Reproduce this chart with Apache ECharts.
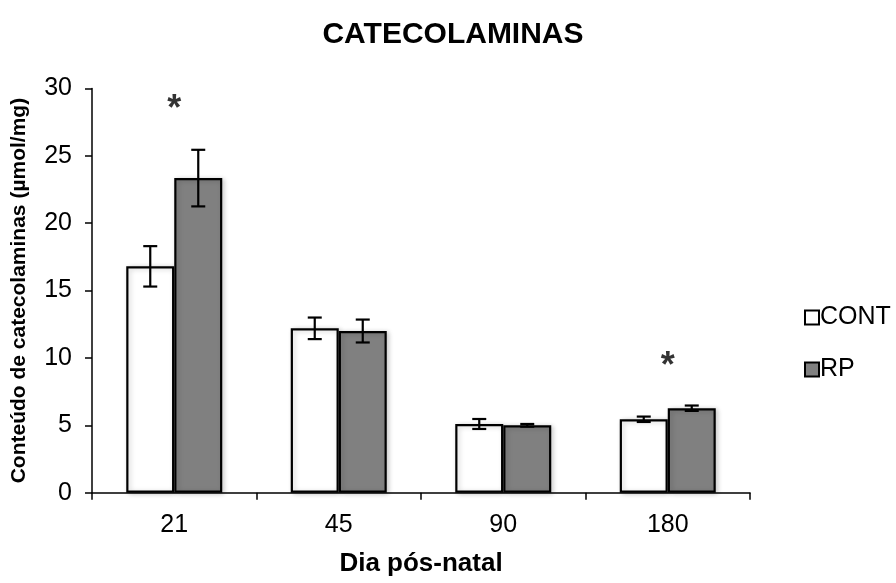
<!DOCTYPE html>
<html>
<head>
<meta charset="utf-8">
<script src="https://cdn.jsdelivr.net/npm/echarts@6/dist/echarts.min.js"></script>
<style>
html,body{margin:0;padding:0;background:#fff;}
#chart{width:896px;height:583px;}
</style>
</head>
<body>
<div id="chart"></div>
<script>
var categories = ['21', '45', '90', '180'];
var seriesNames = ['CONT', 'RP'];
var contValues = [16.8, 12.2, 5.1, 5.45];
var contErrors = [1.5, 0.8, 0.37, 0.2];
var rpValues = [23.35, 12.0, 5.0, 6.27];
var rpErrors = [2.1, 0.85, 0.1, 0.2];
var sigCategories = [0, 3];
var sigHeights = [28.4, 9.3];
var yTicks = [0, 5, 10, 15, 20, 25, 30];

var FONT = 'Liberation Sans, Arial, sans-serif';
var BAR_W = 48;

var chart = echarts.init(document.getElementById('chart'), null, {renderer: 'canvas'});

function errData(vals, errs) {
  return vals.map(function (v, i) { return [i, v - errs[i], v + errs[i]]; });
}

function errRender(offset) {
  return function (params, api) {
    var lo = api.coord([api.value(0), api.value(1)]);
    var hi = api.coord([api.value(0), api.value(2)]);
    var x = lo[0] + offset;
    var cap = 7;
    var st = {stroke: '#000', lineWidth: 2.2};
    return {
      type: 'group',
      children: [
        {type: 'line', shape: {x1: x, y1: lo[1], x2: x, y2: hi[1]}, style: st},
        {type: 'line', shape: {x1: x - cap, y1: hi[1], x2: x + cap, y2: hi[1]}, style: st},
        {type: 'line', shape: {x1: x - cap, y1: lo[1], x2: x + cap, y2: lo[1]}, style: st}
      ]
    };
  };
}

var barShadow = {shadowBlur: 5, shadowColor: 'rgba(0,0,0,0.2)', shadowOffsetX: 2, shadowOffsetY: 1};

var option = {
  backgroundColor: '#fff',
  animation: false,
  textStyle: {fontFamily: FONT},
  title: {
    text: 'CATECOLAMINAS',
    left: 448,
    top: 15,
    textAlign: 'center',
    textStyle: {fontFamily: FONT, fontSize: 30, fontWeight: 'bold', color: '#000'}
  },
  legend: {
    data: seriesNames,
    orient: 'vertical',
    left: 799,
    top: 300,
    icon: 'rect',
    itemWidth: 14,
    itemHeight: 14,
    itemGap: 27,
    itemStyle: {borderColor: '#000', borderWidth: 2, shadowBlur: 0},
    textStyle: {fontFamily: FONT, fontSize: 25, color: '#000', padding: [0, 0, 0, -4]}
  },
  grid: {left: 92, right: 146, top: 88.5, bottom: 90.3, containLabel: false},
  xAxis: {
    type: 'category',
    data: categories,
    boundaryGap: true,
    name: 'Dia pós-natal',
    nameLocation: 'middle',
    nameGap: 58,
    nameTextStyle: {fontFamily: FONT, fontSize: 26, fontWeight: 'bold', color: '#000'},
    axisLine: {lineStyle: {color: '#000', width: 1.5}},
    axisTick: {show: true, length: 7, inside: false, lineStyle: {color: '#000', width: 1.5}},
    axisLabel: {fontFamily: FONT, fontSize: 25, color: '#000', margin: 20},
    splitLine: {show: false}
  },
  yAxis: {
    type: 'value',
    min: yTicks[0],
    max: yTicks[yTicks.length - 1],
    interval: yTicks[1] - yTicks[0],
    name: 'Conteúdo de catecolaminas (µmol/mg)',
    nameLocation: 'middle',
    nameGap: 62,
    nameRotate: 90,
    nameTextStyle: {fontFamily: FONT, fontSize: 21, fontWeight: 'bold', color: '#000'},
    axisLine: {show: true, lineStyle: {color: '#000', width: 1.5}},
    axisTick: {show: true, length: 7, inside: false, lineStyle: {color: '#000', width: 1.5}},
    axisLabel: {fontFamily: FONT, fontSize: 25, color: '#000', margin: 20},
    splitLine: {show: false}
  },
  series: [
    {
      name: seriesNames[0],
      type: 'bar',
      data: contValues,
      barWidth: BAR_W,
      barGap: '0%',
      itemStyle: Object.assign({color: '#ffffff', borderColor: '#000', borderWidth: 2.2}, barShadow),
      z: 2
    },
    {
      name: seriesNames[1],
      type: 'bar',
      data: rpValues,
      barWidth: BAR_W,
      barGap: '0%',
      itemStyle: Object.assign({color: '#808080', borderColor: '#000', borderWidth: 2.2}, barShadow),
      z: 2
    },
    {
      type: 'custom',
      name: 'errCONT',
      renderItem: errRender(-BAR_W / 2),
      data: errData(contValues, contErrors),
      encode: {x: 0, y: [1, 2]},
      z: 5,
      silent: true
    },
    {
      type: 'custom',
      name: 'errRP',
      renderItem: errRender(BAR_W / 2),
      data: errData(rpValues, rpErrors),
      encode: {x: 0, y: [1, 2]},
      z: 5,
      silent: true
    },
    {
      type: 'scatter',
      name: 'sig',
      symbolSize: 0,
      data: sigCategories.map(function (c, i) { return [c, sigHeights[i]]; }),
      label: {
        show: true,
        position: 'inside',
        formatter: '*',
        fontFamily: FONT,
        fontSize: 36,
        fontWeight: 'bold',
        color: '#000'
      },
      z: 6,
      silent: true
    }
  ]
};
chart.setOption(option);
</script>
</body>
</html>
